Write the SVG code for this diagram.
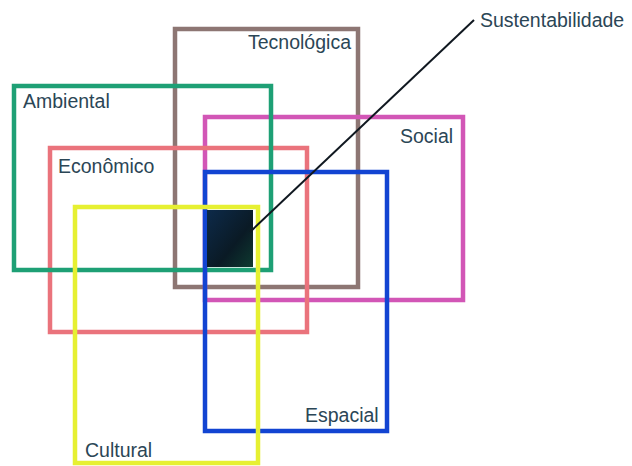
<svg xmlns="http://www.w3.org/2000/svg" width="632" height="466" viewBox="0 0 632 466">
<defs>
<linearGradient id="core" x1="0" y1="0" x2="1" y2="1">
<stop offset="0" stop-color="#0d2a4a"/>
<stop offset="0.6" stop-color="#0a1a25"/>
<stop offset="1" stop-color="#0e3a30"/>
</linearGradient>
</defs>
<style>
.box{fill:none;stroke-width:4.5}
.lbl{font-family:"Liberation Sans",Arial,sans-serif;font-size:19.5px;fill:#2b4656}
</style>
<rect width="632" height="466" fill="#ffffff"/>
<g id="tecnologica">
<rect class="box" x="175" y="29" width="183" height="258" stroke="#8d7673"/>
<text class="lbl" x="248" y="49">Tecnológica</text>
</g>
<g id="social">
<rect class="box" x="205" y="117" width="258" height="183" stroke="#d256b6"/>
<text class="lbl" x="400" y="143">Social</text>
</g>
<g id="economico">
<rect class="box" x="50" y="148" width="257" height="184" stroke="#ea737c"/>
<text class="lbl" x="58" y="173">Econômico</text>
</g>
<g id="ambiental">
<rect class="box" x="14" y="86" width="257" height="184" stroke="#1ea075"/>
<text class="lbl" x="23" y="108">Ambiental</text>
</g>
<g id="espacial">
<rect class="box" x="205" y="172" width="182" height="259" stroke="#1244d2"/>
<text class="lbl" x="305" y="422">Espacial</text>
</g>
<g id="cultural">
<rect class="box" x="75" y="207" width="183" height="256" stroke="#e6f032"/>
<text class="lbl" x="85" y="457">Cultural</text>
</g>
<g id="sustentabilidade">
<rect x="207" y="210" width="46" height="57" fill="url(#core)"/>
<text class="lbl" x="480" y="27">Sustentabilidade</text>
</g>
<g id="connectors">
<line x1="250" y1="232" x2="474" y2="20" stroke="#101820" stroke-width="2"/>
</g>
</svg>
